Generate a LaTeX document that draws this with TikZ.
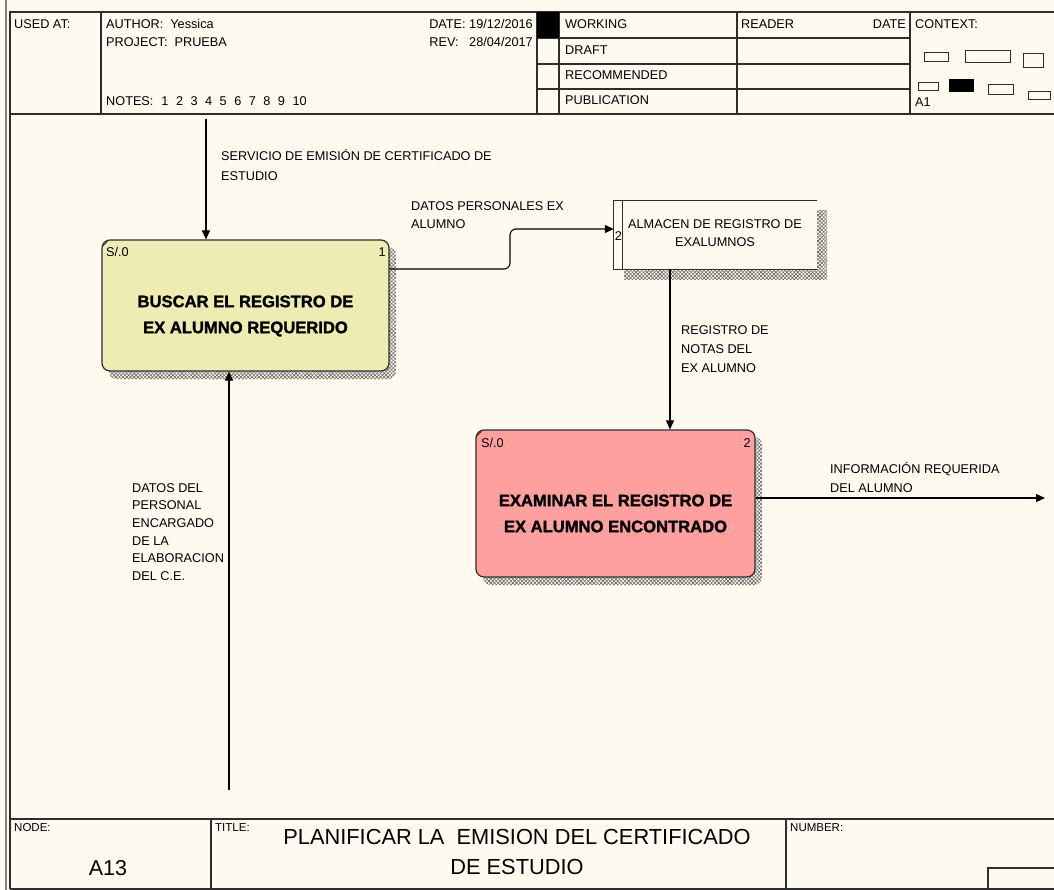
\documentclass[tikz,border=0pt]{standalone}
\usepackage{fontspec}
\setmainfont{Liberation Sans}
\newfontfamily\heavyfont{Liberation Sans}[BoldFeatures={FakeBold=1.6}]
\usetikzlibrary{arrows.meta,patterns.meta}

\definecolor{paper}{RGB}{255,250,240}
\definecolor{boxyellow}{RGB}{238,236,178}
\definecolor{boxpink}{RGB}{255,160,160}
\definecolor{framegray}{RGB}{45,45,45}

\tikzset{
  rule/.style={draw=framegray,line width=1.1pt},
  small/.style={font=\fontsize{12.7}{18}\selectfont,inner sep=0pt},
  tiny/.style={font=\fontsize{11.5}{14}\selectfont,inner sep=0pt},
  flowlbl/.style={small,align=left,anchor=north west},
  flow/.style={draw=black,line width=1.1pt,-{Triangle[length=9pt,width=8pt]}},
  hatch/.style={preaction={pattern={Lines[angle=45,distance=2.6pt,line width=0.6pt]},pattern color=black!60},
                pattern={Lines[angle=-45,distance=2.6pt,line width=0.6pt]},pattern color=black!60},
  procbox/.style={draw=framegray,line width=1.2pt,rounded corners=8pt,inner sep=0pt},
  boxtext/.style={font=\fontsize{16.6}{26}\selectfont\heavyfont\bfseries,align=center,inner sep=0pt},
  storebox/.style={fill=paper,inner sep=0pt},
}

\begin{document}
\begin{tikzpicture}[x=1pt,y=-1pt]
  % sheet
  \fill[paper] (0,0) rectangle (1054,890);
  \useasboundingbox (0,0) rectangle (1054,890);
  \draw[gray,line width=1.5pt] (6,0) -- (6,890);

  % ---------- header ----------
  \draw[rule] (10,889) -- (10,12) -- (1056,12);
  \draw[rule] (10,114) -- (1056,114);
  \draw[rule] (101,12) -- (101,114);
  \draw[rule] (537,12) -- (537,114);
  \draw[rule] (559,12) -- (559,114);
  \draw[rule] (737,12) -- (737,114);
  \draw[rule] (910,12) -- (910,114);
  \draw[rule] (537,38) -- (910,38);
  \draw[rule] (537,64) -- (910,64);
  \draw[rule] (537,89) -- (910,89);
  \fill[black] (537,12) rectangle (559,38);

  \node[small,anchor=base west] (usedat) at (14,29) {USED AT:};
  \node[small,anchor=base west] (author) at (106,29) {AUTHOR:\ \ Yessica};
  \node[small,anchor=base west] (project) at (106,47) {PROJECT:\ \ PRUEBA};
  \node[small,anchor=base west] (notes) at (106,106)
    {NOTES:\hspace{8pt}1\hspace{7.5pt}2\hspace{7.5pt}3\hspace{7.5pt}4\hspace{7.5pt}5\hspace{7.5pt}6\hspace{7.5pt}7\hspace{7.5pt}8\hspace{7.5pt}9\hspace{7.5pt}10};
  \node[small,anchor=base east] (date) at (533,29) {DATE:\ 19/12/2016};
  \node[small,anchor=base east] (rev) at (533,47) {REV:\ \ \ 28/04/2017};
  \node[small,anchor=base west] (working) at (565,29) {WORKING};
  \node[small,anchor=base west] (draft) at (565,55) {DRAFT};
  \node[small,anchor=base west] (recom) at (565,80) {RECOMMENDED};
  \node[small,anchor=base west] (public) at (565,105) {PUBLICATION};
  \node[small,anchor=base west] (reader) at (741,29) {READER};
  \node[small,anchor=base east] (rdate) at (906,29) {DATE};
  \node[small,anchor=base west] (context) at (915,29) {CONTEXT:};
  \node[small,anchor=base west] (ctxnode) at (915,107) {A1};

  % context thumbnail
  \begin{scope}[draw=framegray,line width=0.9pt]
    \draw (924,52) rectangle (948,61);
    \draw (965,50) rectangle (1010,62);
    \draw (1023,53) rectangle (1043,67);
    \draw (918,82) rectangle (938,90);
    \fill[black] (949,79) rectangle (974,92);
    \draw (988,84) rectangle (1013,94);
    \draw (1028,91) rectangle (1050,99);
  \end{scope}

  % ---------- footer ----------
  \draw[rule] (10,819) -- (1056,819);
  \draw[rule] (10,889) -- (1056,889);
  \draw[rule] (211,819) -- (211,889);
  \draw[rule] (786,819) -- (786,889);
  \draw[rule] (988,889) -- (988,868) -- (1056,868);

  \node[tiny,anchor=base west] (nodelbl) at (14,831) {NODE:};
  \node[tiny,anchor=base west] (titlelbl) at (215,831) {TITLE:};
  \node[tiny,anchor=base west] (numlbl) at (790,831) {NUMBER:};
  \node[font=\fontsize{21.5}{30}\selectfont,inner sep=0pt,anchor=base] (nodeid) at (108,875) {A13};
  \node[font=\fontsize{21.8}{30}\selectfont,inner sep=0pt,align=center,anchor=north] (title) at (517,829)
    {PLANIFICAR LA\ \ EMISION DEL CERTIFICADO\\DE ESTUDIO};

  % ---------- shadows ----------
  \path[hatch,rounded corners=8pt] (109,247) rectangle (396,379);
  \path[hatch,rounded corners=8pt] (483,437) rectangle (762,585);
  \path[hatch] (624,211) rectangle (827,280);

  % ---------- activities ----------
  \node[procbox,fill=boxyellow,minimum width=287pt,minimum height=131pt] (p1) at (245.5,305.5) {};
  \node[boxtext] (p1text) at ([yshift=-10.5pt]p1.center) {BUSCAR EL REGISTRO DE\\EX ALUMNO REQUERIDO};
  \node[small,anchor=base west] (p1cost) at (106,257) {S/.0};
  \node[small,anchor=base east] (p1num) at (386,257) {1};
  \draw[framegray,line width=0.8pt] ([shift={(1pt,-7pt)}]p1.north west) -- ++(5pt,5pt);

  \node[procbox,fill=boxpink,minimum width=279pt,minimum height=147pt] (p2) at (615.5,503.5) {};
  \node[boxtext] (p2text) at ([yshift=-10pt]p2.center) {EXAMINAR EL REGISTRO DE\\EX ALUMNO ENCONTRADO};
  \node[small,anchor=base west] (p2cost) at (481,447) {S/.0};
  \node[small,anchor=base east] (p2num) at (751,447) {2};
  \draw[framegray,line width=0.8pt] ([shift={(1pt,-7pt)}]p2.north west) -- ++(5pt,5pt);

  % ---------- data store ----------
  \node[storebox,minimum width=203pt,minimum height=68pt] (st) at (715.5,235) {};
  \draw[framegray,line width=1.1pt] (st.north east) -- (st.north west) -- (st.south west) -- (st.south east);
  \draw[framegray,line width=1.1pt] ([xshift=9pt]st.north west) -- ([xshift=9pt]st.south west);
  \node[small,align=center] (sttext) at (715,233) {ALMACEN DE REGISTRO DE\\EXALUMNOS};
  \node[small] (stnum) at (618.5,236) {2};

  % ---------- arrows ----------
  \coordinate (srvtop) at (206,119);
  \coordinate (perbot) at (229,790);
  \coordinate (storex) at (670,0);
  \coordinate (outend) at (1045,498);

  \draw[flow] (srvtop) -- (srvtop |- p1.north);
  \draw[flow] (perbot) -- (perbot |- p1.south);
  \draw[flow,rounded corners=6pt] ([yshift=36.5pt]p1.east) -- (510,269) -- (510,229) -- ([yshift=6pt]st.west);
  \draw[flow] (st.south -| storex) -- (p2.north -| storex);
  \draw[flow] (p2.east |- outend) -- (outend);

  % ---------- arrow labels ----------
  \node[flowlbl,font=\fontsize{12.7}{20}\selectfont] (l1) at (221,149) {SERVICIO DE EMISIÓN DE CERTIFICADO DE\\ESTUDIO};
  \node[flowlbl] (l2) at (411,201) {DATOS PERSONALES EX\\ALUMNO};
  \node[flowlbl,font=\fontsize{12.7}{19}\selectfont] (l3) at (681,325) {REGISTRO DE\\NOTAS DEL\\EX ALUMNO};
  \node[flowlbl,font=\fontsize{12.7}{19}\selectfont] (l4) at (830,462) {INFORMACIÓN REQUERIDA\\DEL ALUMNO};
  \node[flowlbl,font=\fontsize{12.7}{17.7}\selectfont] (l5) at (132,483)
    {DATOS DEL\\PERSONAL\\ENCARGADO\\DE LA\\ELABORACION\\DEL C.E.};
\end{tikzpicture}
\end{document}
